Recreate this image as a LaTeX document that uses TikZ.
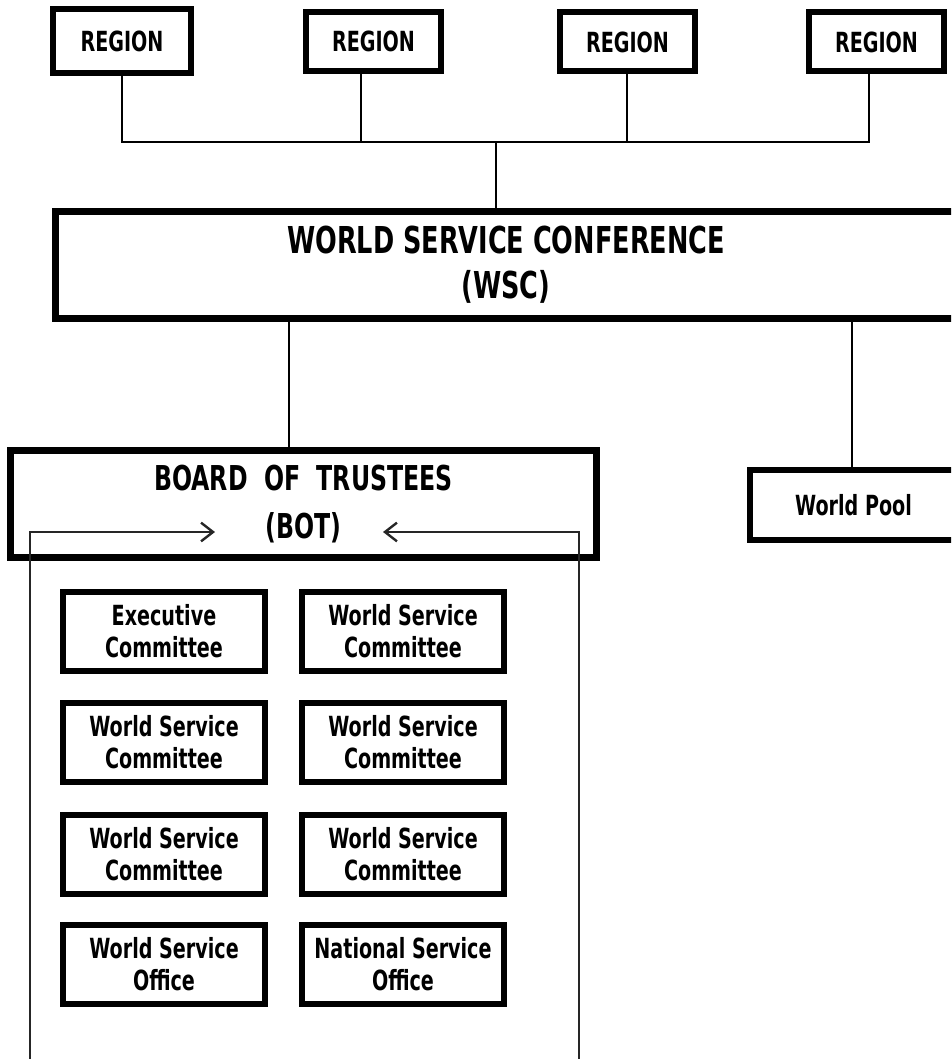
\documentclass[tikz,border=0pt]{standalone}
\usepackage{fontspec}
\newfontfamily\df[FakeStretch=0.69]{DejaVu Sans}
\usetikzlibrary{arrows.meta}
\begin{document}
\begin{tikzpicture}[x=0.75pt,y=-0.75pt,
  region/.style={draw=black, line width=4.5pt, inner sep=0pt, align=center,
    font=\df\bfseries\fontsize{20.8}{24}\selectfont},
  bigbox/.style={draw=black, line width=5.25pt, inner sep=0pt, align=center},
  link/.style={draw=black, line width=1.2pt},
  feed/.style={draw=black!85, line width=1.2pt, -{Straight Barb[length=9pt,width=14pt,line width=1.8pt]}}
]
\path[use as bounding box, clip] (0,0) rectangle (951,1059);

% regions
\node[region, minimum width=103.5pt, minimum height=48pt] (r1) at (122,41) {REGION};
\node[region, minimum width=101.25pt, minimum height=44.25pt] (r2) at (373.5,41.5) {REGION};
\node[region, minimum width=101.25pt, minimum height=44.25pt] (r3) at (627.5,42) {REGION};
\node[region, minimum width=101.25pt, minimum height=44.25pt] (r4) at (876.5,42) {REGION};

% conference
\node[bigbox, minimum width=675.75pt, minimum height=80.25pt,
  font=\df\bfseries\fontsize{27.8}{33.75}\selectfont] (wsc) at (506,265)
  {WORLD SERVICE CONFERENCE\\(WSC)};

% board
\node[bigbox, minimum width=439.5pt, minimum height=80.25pt,
  font=\df\bfseries\fontsize{25.7}{36}\selectfont] (bot) at (303.5,504)
  {BOARD\ \ OF\ \ TRUSTEES\\(BOT)};

% world pool
\node[region, minimum width=155.25pt, minimum height=52.5pt] (pool) at (853.5,505) {World Pool};

% committees
\tikzset{inner/.style={region, minimum width=151.5pt, minimum height=59.25pt}}
\node[inner] (ec)  at (164,631)   {Executive\\Committee};
\node[inner] (ws1) at (403,631)   {World Service\\Committee};
\node[inner] (ws2) at (164,742)   {World Service\\Committee};
\node[inner] (ws3) at (403,742)   {World Service\\Committee};
\node[inner] (ws4) at (164,854.5) {World Service\\Committee};
\node[inner] (ws5) at (403,854.5) {World Service\\Committee};
\node[inner] (wso) at (164,964.5) {World Service\\Office};
\node[inner] (nso) at (403,964.5) {National Service\\Office};

% region bus
\coordinate (b2) at (361,142);
\coordinate (b3) at (627,142);
\coordinate (b4) at (869,142);
\coordinate (bm) at (496,142);
\draw[link] (r1.south) |- (b4) -- (b4 |- r4.south);
\draw[link] (b2 |- r2.south) -- (b2);
\draw[link] (b3 |- r3.south) -- (b3);
\draw[link] (bm) -- (bm |- wsc.north);

% conference to board / pool
\coordinate (s1) at (289,380);
\coordinate (s2) at (852,400);
\draw[link] (s1 |- wsc.south) -- (s1 |- bot.north);
\draw[link] (s2 |- wsc.south) -- (s2 |- pool.north);

% feedback arrows into the board
\coordinate (la) at (30,532);
\coordinate (lb) at (30,1070);
\coordinate (lt) at (215,532);
\coordinate (ra) at (579,532);
\coordinate (rb) at (579,1070);
\coordinate (rt) at (383,532);
\draw[feed] (lb) -- (la) -- (lt);
\draw[feed] (rb) -- (ra) -- (rt);
\end{tikzpicture}
\end{document}
